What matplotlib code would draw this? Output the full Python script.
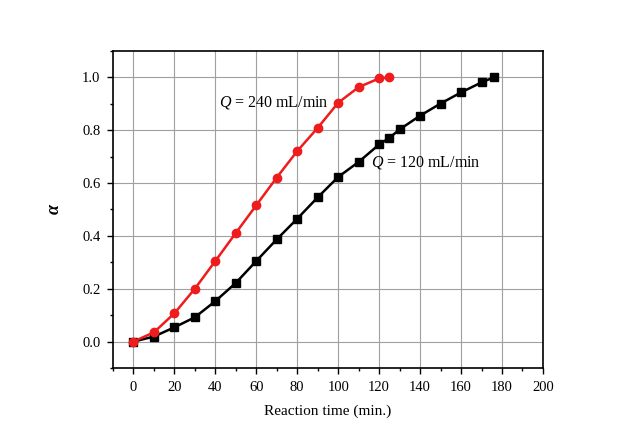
import matplotlib
matplotlib.use("Agg")
import matplotlib.pyplot as plt
from matplotlib.ticker import MultipleLocator

# Q = 240 mL/min
t240 = [0, 10, 20, 30, 40, 50, 60, 70, 80, 90, 100, 110, 120, 125]
a240 = [0.0, 0.035, 0.107, 0.200, 0.305, 0.411, 0.516, 0.621, 0.721, 0.809, 0.904, 0.963, 0.996, 1.0]

# Q = 120 mL/min
t120 = [0, 10, 20, 30, 40, 50, 60, 70, 80, 90, 100, 110, 120, 125, 130, 140, 150, 160, 170, 176]
a120 = [0.0, 0.019, 0.054, 0.092, 0.153, 0.222, 0.305, 0.387, 0.465, 0.546, 0.623, 0.680, 0.746,
        0.771, 0.803, 0.855, 0.901, 0.943, 0.981, 1.0]

plt.rcParams['font.family'] = ['Liberation Serif', 'DejaVu Serif']
plt.rcParams['mathtext.fontset'] = 'custom'
plt.rcParams['mathtext.rm'] = 'Liberation Serif'
plt.rcParams['mathtext.it'] = 'Liberation Serif:italic'
plt.rcParams['mathtext.bf'] = 'Liberation Serif:bold'

fig = plt.figure(figsize=(6.31, 4.41), dpi=100)
ax = fig.add_axes([0.179, 0.1655, 0.6815, 0.719])

ax.plot(t120, a120, "s-", color="black", lw=1.8, ms=5.5, zorder=3)
ax.plot(t240, a240, "o-", color="#ee1c1c", lw=1.8, ms=6, zorder=4)

ax.set_xlim(-10, 200)
ax.set_ylim(-0.1, 1.1)
ax.xaxis.set_major_locator(MultipleLocator(20))
ax.xaxis.set_minor_locator(MultipleLocator(10))
ax.yaxis.set_major_locator(MultipleLocator(0.2))
ax.yaxis.set_minor_locator(MultipleLocator(0.1))
ax.yaxis.set_major_formatter(plt.FormatStrFormatter("%.1f"))
ax.grid(True, which="major", color="#a0a0a0", lw=0.8)
ax.tick_params(which="both", direction="out", labelsize=10.5, width=1)
ax.tick_params(which="major", length=4, pad=5)
ax.tick_params(which="minor", length=2.5)
for s in ax.spines.values():
    s.set_linewidth(1.2)

ax.set_xlabel("Reaction time (min.)", fontsize=11, labelpad=8)
ax.set_ylabel("α", fontsize=13, fontstyle="italic", fontweight="bold", labelpad=14)

ax.text(42, 0.905, "$Q$$\\ $= 240 mL/min", fontsize=11.5, va="center", ha="left")
ax.text(116, 0.676, "$Q$$\\ $= 120 mL/min", fontsize=11.5, va="center", ha="left")

fig.savefig("out.png", dpi=100)
